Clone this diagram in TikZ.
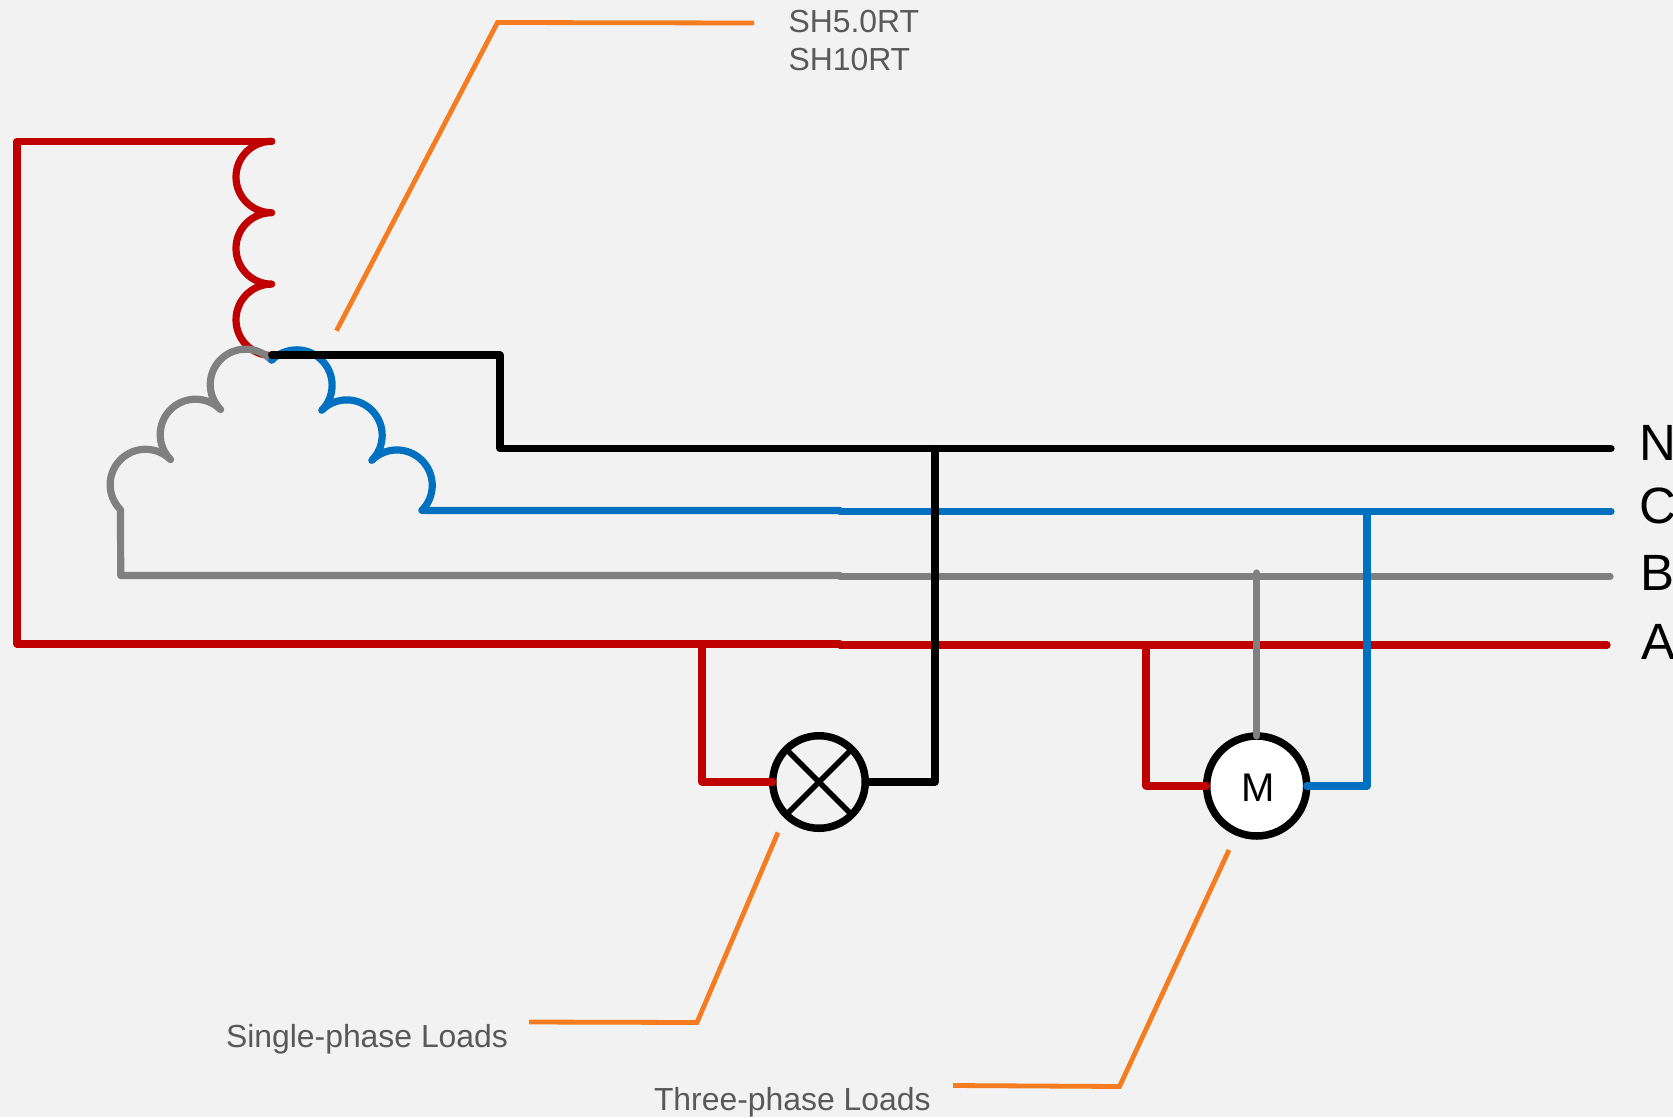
\documentclass[tikz,border=0pt]{standalone}
\usepackage{fontspec}
\setmainfont{Liberation Sans}
\definecolor{bg}{HTML}{F2F2F2}
\definecolor{wred}{HTML}{C00000}
\definecolor{wblue}{HTML}{0070C0}
\definecolor{wgray}{HTML}{808080}
\definecolor{lead}{HTML}{F57C20}
\definecolor{txt}{HTML}{595959}
\tikzset{
  wire/.style={line width=7.2pt,line cap=round,line join=round},
  leader/.style={lead,line width=4.8pt,line join=miter},
  caption/.style={anchor=base west,inner sep=0pt,outer sep=0pt,text=txt,font=\fontsize{31.9}{38}\selectfont},
  phase/.style={anchor=base west,inner sep=0pt,outer sep=0pt,text=black,font=\fontsize{51}{60}\selectfont},
  load/.style={circle,draw=black,line width=7.5pt,outer sep=0pt,inner sep=0pt}
}
\begin{document}
\begin{tikzpicture}[x=1pt,y=1pt,yscale=-1]
\useasboundingbox (0,0) rectangle (1673,1117);
\fill[bg] (0,0) rectangle (1673,1117);
\clip (0,0) rectangle (1673,1117);

% load symbols
\node[load,minimum size=92.5pt] (lamp) at (819,782) {};
\node[load,fill=white,minimum size=100pt] (motor) at (1256.7,786) {};
\node[inner sep=0pt,outer sep=0pt,text=black,font=\fontsize{40}{46}\selectfont] (mlabel) at (1258.2,787.5) {M};
\draw[black,line width=5.5pt] (lamp.north west) -- (lamp.south east);
\draw[black,line width=5.5pt] (lamp.north east) -- (lamp.south west);

% named junctions
\coordinate (rtop) at (271.7,141.3);
\coordinate (rtl) at (17,141.3);
\coordinate (rbl) at (17,644);
\coordinate (amid) at (840,644);
\coordinate (amid2) at (840,645);
\coordinate (aend) at (1607,645);
\coordinate (star) at (271.7,355);
\coordinate (cleft) at (840,510.5);
\coordinate (cmid) at (840,511.5);
\coordinate (cend) at (1611,511.5);
\coordinate (graycorner) at (120.7,575.5);
\coordinate (bleft) at (840,575.5);
\coordinate (bmid) at (840,576.5);
\coordinate (bend) at (1610,576.5);
\coordinate (nc1) at (500,355);
\coordinate (nc2) at (500,448.5);
\coordinate (nend) at (1611,448.5);
\coordinate (nj) at (935,448.5);
\coordinate (lampr) at (935,782);
\coordinate (ta1) at (702,644);
\coordinate (ta2) at (702,782);
\coordinate (ta3) at (1146,645);
\coordinate (ta4) at (1146,786);
\coordinate (tb) at (1256.7,573);
\coordinate (tc1) at (1367,511.5);
\coordinate (tc2) at (1367,786);

% phase A with coil
\draw[wire,wred] (rtop) arc[start angle=270,end angle=90,radius=35.7pt]
  arc[start angle=270,end angle=90,radius=35.7pt]
  arc[start angle=270,end angle=90,radius=35.7pt];
\draw[wire,wred] (rtop) -- (rtl) -- (rbl) -- (amid);
\draw[wire,wred] (amid2) -- (aend);
\draw[wire,wred] (ta1) -- (ta2) -- (lamp.west);
\draw[wire,wred] (ta3) -- (ta4) -- (motor.west);

% phase B with coil
\draw[wire,wgray] (270.7,359.5) arc[start angle=315,end angle=135,radius=35.4pt]
  arc[start angle=315,end angle=135,radius=35.4pt]
  arc[start angle=315,end angle=135,radius=35.4pt] -- (graycorner) -- (bleft);
\draw[wire,wgray] (bmid) -- (bend);
\draw[wire,wgray] (tb) -- (motor.north);

% phase C with coil
\draw[wire,wblue] (271.7,360.2) arc[start angle=225,end angle=405,radius=35.4pt]
  arc[start angle=225,end angle=405,radius=35.4pt]
  arc[start angle=225,end angle=405,radius=35.4pt] -- (cleft);
\draw[wire,wblue] (cmid) -- (cend);
\draw[wire,wblue] (tc1) -- (tc2) -- (motor.east);

% neutral
\draw[wire,black] (star) -- (nc1) -- (nc2) -- (nend);
\draw[wire,black] (nj) -- (lampr) -- (lamp.east);

% leaders
\coordinate (l1a) at (754,23);
\coordinate (l1b) at (497.5,22.5);
\coordinate (l1c) at (336.5,330.7);
\coordinate (l2a) at (778,832.5);
\coordinate (l2b) at (697,1022.5);
\coordinate (l2c) at (529,1022);
\coordinate (l3a) at (1229,850);
\coordinate (l3b) at (1119.5,1086.5);
\coordinate (l3c) at (953,1085.5);
\draw[leader] (l1a) -- (l1b) -- (l1c);
\draw[leader] (l2a) -- (l2b) -- (l2c);
\draw[leader] (l3a) -- (l3b) -- (l3c);

% texts
\node[caption] (t1) at (788.5,32) {SH5.0RT};
\node[caption] (t2) at (788.5,70) {SH10RT};
\node[caption] (t3) at (226,1047) {Single-phase Loads};
\node[caption] (t4) at (654,1110) {Three-phase Loads};
\node[phase] (pn) at (1639,460) {N};
\node[phase] (pc) at (1639,523) {C};
\node[phase] (pb) at (1640,590) {B};
\node[phase] (pa) at (1641,659) {A};
\end{tikzpicture}
\end{document}
